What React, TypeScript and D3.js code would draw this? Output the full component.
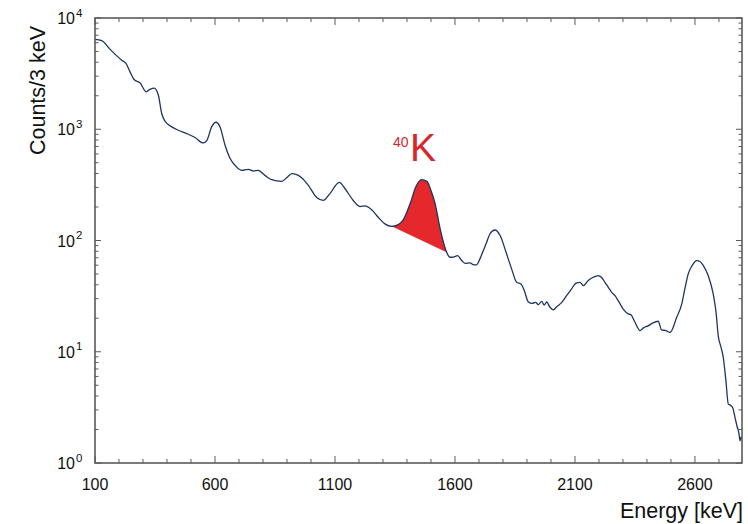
import * as d3 from 'd3';

// spectrum (energy in keV, counts per 3 keV channel)
const energy = [
  100, 128, 163, 211, 229, 246, 263, 288, 313, 329, 347, 364, 378, 392, 420, 447, 482, 517, 551, 565,
  586, 604, 621, 642, 663, 690, 711, 739, 760, 780, 808, 836, 878, 899, 920, 961, 989, 1024, 1051, 1079,
  1118, 1142, 1176, 1204, 1225, 1253, 1280, 1308, 1336, 1364, 1385, 1413, 1438, 1461, 1483, 1500, 1517, 1538, 1565,
  1579, 1593, 1611, 1628, 1642, 1663, 1676, 1690, 1704, 1718, 1732, 1746, 1767, 1788, 1815, 1836, 1857, 1875, 1889,
  1905, 1922, 1936, 1947, 1961, 1972, 1982, 1996, 2010, 2024, 2045, 2065, 2086, 2103, 2121, 2135, 2155, 2176, 2197,
  2211, 2225, 2239, 2253, 2267, 2280, 2301, 2322, 2333, 2350, 2371, 2385, 2405, 2425, 2447, 2461, 2479, 2496, 2524,
  2545, 2558, 2572, 2588, 2607, 2621, 2635, 2655, 2676, 2688, 2697, 2708, 2718, 2729, 2739, 2746, 2757, 2767, 2775,
  2783, 2788, 2792, 2796,
];
const counts = [
  6430, 6250, 5220, 4180, 3910, 3280, 2800, 2610, 2170, 2280, 2340, 2020, 1385, 1180, 1050, 980, 915, 842, 753, 785,
  1050, 1156, 1050, 718, 545, 457, 427, 436, 421, 427, 385, 352, 340, 367, 399, 367, 313, 243, 229, 264,
  333, 292, 229, 202, 205, 189, 162, 141, 134, 139, 154, 214, 307, 352, 340, 282, 215, 128, 78.5,
  70.7, 71, 73.2, 66, 62.4, 63, 60.8, 60.5, 68.4, 81.2, 96.5, 115, 124.3, 110.9, 75.9, 55.6, 42.1, 40.7, 35.4,
  28.2, 27.2, 27.8, 26.5, 28.4, 26.3, 28, 25.1, 23.8, 25.4, 27.8, 31.9, 36.7, 41.2, 42.1, 39.3, 43.6, 46.7, 48.4,
  46.5, 42.1, 37.9, 34.2, 31.9, 28.8, 24.2, 21.9, 21.5, 18.4, 15.5, 16.4, 17.1, 18.2, 18.8, 15.7, 15.5, 14.9, 20.4,
  26.9, 36.9, 50.1, 59.5, 66, 64.7, 59.5, 48.4, 33.1, 22.5, 13.9, 11.1, 8.88, 5.48, 3.38, 3.33, 3.15, 2.56, 2.15,
  1.86, 1.58, 1.71, 1.65,
];

// 40K photopeak region, filled above a straight background line
const peakStart = 1336;
const peakEnd = 1565;

const xMajor = [100, 600, 1100, 1600, 2100, 2600];
const yDecades = [0, 1, 2, 3, 4];

const W = 748;
const H = 524;
const margin = { top: 18, right: 6, bottom: 61, left: 95 };
const font = '"Liberation Sans", Arial, sans-serif';
const frameColor = '#5a5a5a';

export default function App() {
  const x = d3.scaleLinear().domain([100, 2796]).range([margin.left, W - margin.right]);
  const y = d3.scaleLog().domain([1, 10000]).range([H - margin.bottom, margin.top]);

  const pts = energy.map((e, i) => [e, counts[i]] as [number, number]);
  const line = d3.line<[number, number]>()
    .x(d => x(d[0]))
    .y(d => y(d[1]))
    .curve(d3.curveMonotoneX);

  const peakPts = pts.filter(d => d[0] >= peakStart && d[0] <= peakEnd);
  const peakPath = line(peakPts) + 'Z';

  const x0 = margin.left;
  const x1 = W - margin.right;
  const y0 = H - margin.bottom;
  const y1 = margin.top;

  const xMinor = d3.range(100, 2800, 100).filter(v => !xMajor.includes(v));
  const yMinor: number[] = [];
  yDecades.slice(0, -1).forEach(k => {
    for (let m = 2; m <= 9; m++) yMinor.push(m * Math.pow(10, k));
  });

  return (
    <svg width={W} height={H} style={{ position: 'absolute', left: 0, top: 0, background: '#fff' }}
      fontFamily={font}>
      <defs>
        <clipPath id="plot">
          <rect x={x0} y={y1} width={x1 - x0} height={y0 - y1} />
        </clipPath>
      </defs>

      <g clipPath="url(#plot)">
        <path d={peakPath} fill="#e5282c" stroke="none" />
        <path d={line(pts) ?? ''} fill="none" stroke="#1d3560" strokeWidth={1.3} strokeLinejoin="round" />
      </g>

      {/* ticks, inward on all four sides */}
      <g stroke={frameColor} strokeWidth={1}>
        {xMajor.map(v => (
          <g key={'xM' + v}>
            <line x1={x(v)} x2={x(v)} y1={y0} y2={y0 - 7} />
            <line x1={x(v)} x2={x(v)} y1={y1} y2={y1 + 7} />
          </g>
        ))}
        {xMinor.map(v => (
          <g key={'xm' + v}>
            <line x1={x(v)} x2={x(v)} y1={y0} y2={y0 - 4} />
            <line x1={x(v)} x2={x(v)} y1={y1} y2={y1 + 4} />
          </g>
        ))}
        {yDecades.map(k => (
          <g key={'yM' + k}>
            <line x1={x0} x2={x0 + 6} y1={y(Math.pow(10, k))} y2={y(Math.pow(10, k))} />
            <line x1={x1} x2={x1 - 6} y1={y(Math.pow(10, k))} y2={y(Math.pow(10, k))} />
          </g>
        ))}
        {yMinor.map(v => (
          <g key={'ym' + v}>
            <line x1={x0} x2={x0 + 3.5} y1={y(v)} y2={y(v)} />
            <line x1={x1} x2={x1 - 3.5} y1={y(v)} y2={y(v)} />
          </g>
        ))}
      </g>

      <rect x={x0} y={y1} width={x1 - x0} height={y0 - y1} fill="none" stroke={frameColor} strokeWidth={1.6} />

      {/* tick labels */}
      {xMajor.map(v => (
        <text key={'xl' + v} x={x(v)} y={490} textAnchor="middle" fontSize={16} fill="#111">{v}</text>
      ))}
      {yDecades.map(k => (
        <g key={'yl' + k}>
          <text x={75} y={y(Math.pow(10, k)) + 6} textAnchor="end" fontSize={16} fill="#111">10</text>
          <text x={76} y={y(Math.pow(10, k)) - 1.5} fontSize={11.5} fill="#111">{k}</text>
        </g>
      ))}

      {/* axis titles */}
      <text transform={`translate(45,${(y0 + y1) / 2 - 150}) rotate(-90)`} textAnchor="middle" fontSize={21.5} fill="#111">
        Counts/3 keV
      </text>
      <text x={743} y={518} textAnchor="end" fontSize={21.5} fill="#111">Energy [keV]</text>

      {/* peak annotation */}
      <text x={393} y={147} fontSize={14} fill="#d8262b">40</text>
      <text x={410} y={161} fontSize={39} fill="#d8262b">K</text>
    </svg>
  );
}
